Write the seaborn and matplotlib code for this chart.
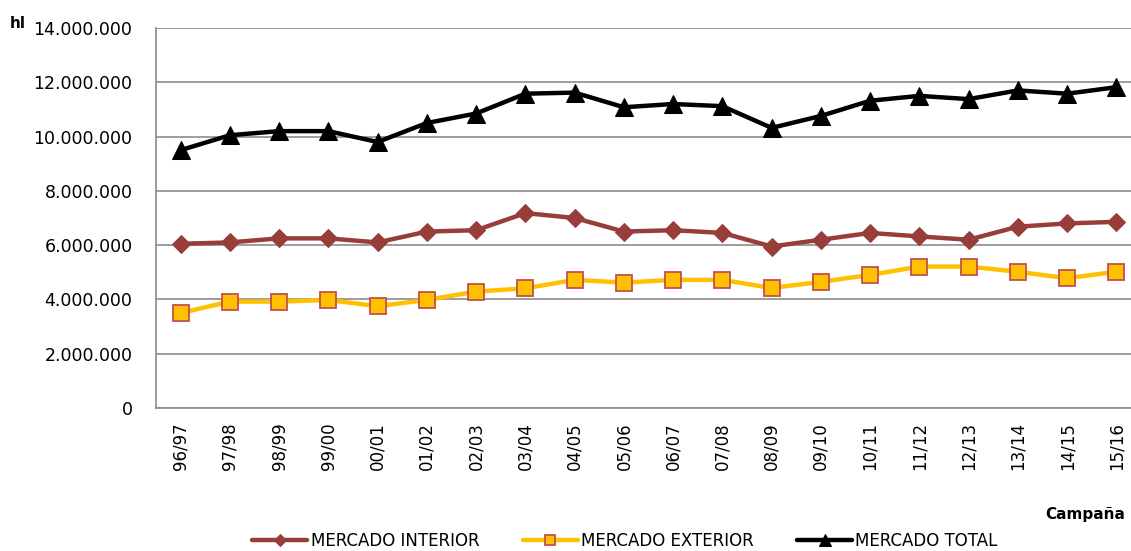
import matplotlib
matplotlib.use("Agg")
import matplotlib.pyplot as plt
import matplotlib.ticker as mticker
import seaborn as sns
import pandas as pd
import numpy as np

campaigns = ["96/97", "97/98", "98/99", "99/00", "00/01", "01/02", "02/03", "03/04", "04/05", "05/06",
             "06/07", "07/08", "08/09", "09/10", "10/11", "11/12", "12/13", "13/14", "14/15", "15/16"]
interior = [6.05, 6.1, 6.25, 6.25, 6.1, 6.5, 6.55, 7.18, 7.0, 6.5,
            6.55, 6.45, 5.95, 6.2, 6.45, 6.32, 6.2, 6.68, 6.8, 6.86]
exterior = [3.5, 3.92, 3.92, 3.98, 3.75, 3.98, 4.29, 4.41, 4.72, 4.62,
            4.72, 4.72, 4.42, 4.65, 4.9, 5.21, 5.21, 5.02, 4.78, 5.02]
total = [9.5, 10.05, 10.2, 10.2, 9.8, 10.5, 10.85, 11.58, 11.62, 11.08,
         11.2, 11.12, 10.32, 10.76, 11.32, 11.5, 11.38, 11.7, 11.58, 11.82]

series_names = ["MERCADO INTERIOR", "MERCADO EXTERIOR", "MERCADO TOTAL"]

df = pd.DataFrame({
    "idx": list(range(len(campaigns))) * 3,
    "value": [v * 1e6 for v in interior + exterior + total],
    "serie": sum([[s] * len(campaigns) for s in series_names], []),
})

sns.set_theme(style="white")
plt.rcParams["font.family"] = ["DejaVu Sans"]
plt.rcParams["text.color"] = "black"
plt.rcParams["xtick.color"] = "black"
plt.rcParams["ytick.color"] = "black"

fig = plt.figure(figsize=(11.31, 5.51), dpi=100)
ax = fig.add_axes([156 / 1131, 1 - 408 / 551, (1141 - 156) / 1131, (408 - 28) / 551])

styles = {
    "MERCADO INTERIOR": dict(color="#983D3A", marker="D", markersize=9, markerfacecolor="#983D3A",
                             markeredgecolor="#983D3A"),
    "MERCADO EXTERIOR": dict(color="#FFC000", marker="s", markersize=11, markerfacecolor="#FFC000",
                             markeredgecolor="#C0504D", markeredgewidth=1.3),
    "MERCADO TOTAL": dict(color="black", marker="^", markersize=13, markerfacecolor="black",
                          markeredgecolor="black"),
}

for s in series_names:
    sub = df[df["serie"] == s]
    sns.lineplot(data=sub, x="idx", y="value", ax=ax, label=s, linewidth=3.2, **styles[s])

ax.set_xlim(-0.5, len(campaigns) - 0.5)
ax.set_ylim(0, 14e6)
ax.yaxis.set_major_locator(mticker.MultipleLocator(2e6))
ax.yaxis.set_major_formatter(mticker.FuncFormatter(lambda v, p: f"{int(v):,}".replace(",", ".")))
ax.set_xticks(range(len(campaigns)))
ax.set_xticklabels(campaigns, rotation=90, fontsize=12)
ax.tick_params(axis="y", labelsize=12.5, length=0, pad=17)
ax.tick_params(axis="x", length=0, pad=10)
ax.grid(axis="y", color="#8c8c8c", linewidth=1.2)
ax.set_axisbelow(True)
for side in ["top", "right"]:
    ax.spines[side].set_visible(False)
for side in ["left", "bottom"]:
    ax.spines[side].set_color("#8c8c8c")
    ax.spines[side].set_linewidth(1.2)
ax.set_xlabel("")
ax.set_ylabel("")

fig.text(10 / 1131, 1 - 24 / 551, "hl", fontsize=11, fontweight="bold", va="center", ha="left")
fig.text(1125 / 1131, 1 - 515 / 551, "Campaña", fontsize=11, fontweight="bold", va="center", ha="right")

leg = ax.legend(loc="center", bbox_to_anchor=(625 / 1131, 1 - 541 / 551), bbox_transform=fig.transFigure,
                ncol=3, frameon=False, fontsize=12, handlelength=3.3, columnspacing=2.6, handletextpad=0.2,
                markerscale=0.7)
for line in leg.get_lines():
    line.set_linewidth(3.2)

fig.savefig("out.png", dpi=100)
